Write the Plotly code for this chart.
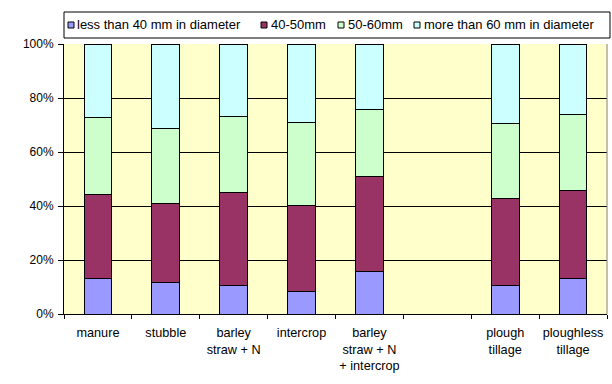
import plotly.graph_objects as go

categories = ["manure", "stubble", "barley<br>straw + N", "intercrop",
              "barley<br>straw + N<br>+ intercrop", " ", "plough<br>tillage",
              "ploughless<br>tillage"]
less_40 = [13.2, 11.7, 10.6, 8.4, 15.8, None, 10.6, 13.2]
mm_40_50 = [31.1, 29.3, 34.5, 31.9, 35.3, None, 32.2, 32.6]
mm_50_60 = [28.5, 27.8, 28.1, 30.7, 24.7, None, 27.8, 28.1]
more_60 = [27.2, 31.2, 26.8, 29.0, 24.2, None, 29.4, 26.1]
y_ticks = [0, 0.2, 0.4, 0.6, 0.8, 1.0]

series = [
    ("less than 40 mm in diameter", less_40, "#9999FF"),
    ("40-50mm", mm_40_50, "#993366"),
    ("50-60mm", mm_50_60, "#CCFFCC"),
    ("more than 60 mm in diameter", more_60, "#CCFFFF"),
]

W, H = 612, 384
L, R, T, B = 64, 5, 44, 70
PW, PH = W - L - R, H - T - B


def px_x(p):
    return (p - L) / PW


def px_y(p):
    return (H - B - p) / PH


FONT = "Liberation Sans, Arial, sans-serif"

fig = go.Figure()
for name, vals, col in series:
    fig.add_trace(go.Bar(
        x=categories, y=[None if v is None else v / 100 for v in vals],
        name=name, marker=dict(color=col, line=dict(color="black", width=1)),
    ))

fig.update_layout(
    barmode="stack",
    bargap=0.59,
    width=W, height=H,
    margin=dict(l=L, r=R, t=T, b=B),
    paper_bgcolor="white",
    plot_bgcolor="#FFFFCC",
    font=dict(family=FONT, size=12, color="black"),
    showlegend=False,
    xaxis=dict(
        type="category", categoryorder="array", categoryarray=categories,
        tickson="boundaries", ticks="outside", ticklen=4, tickcolor="black",
        showline=True, linecolor="black", linewidth=1, automargin=False,
        showgrid=False, range=[-0.5, 7.5], tickangle=0,
        tickfont=dict(size=12.7), ticklabelstandoff=7,
    ),
    yaxis=dict(
        range=[0, 1], tickvals=y_ticks, automargin=False,
        tickformat=".0%", ticks="outside", ticklen=5, tickcolor="black",
        showline=True, linecolor="black", linewidth=1, ticklabelstandoff=2,
        showgrid=True, gridcolor="black", gridwidth=1, zeroline=False,
    ),
)
fig.add_shape(type="line", xref="paper", yref="paper", x0=1, x1=1, y0=0, y1=1,
              line=dict(color="#808080", width=1))

# legend box (drawn manually to match the compact layout)
fig.add_shape(type="rect", xref="paper", yref="paper",
              x0=px_x(64), x1=px_x(610), y0=px_y(38), y1=px_y(12),
              line=dict(color="black", width=1), fillcolor="white", layer="above")
sq_x = [68, 261, 338, 414]
tx_x = [75, 269, 346, 422]
for (name, _, col), sx, tx in zip(series, sq_x, tx_x):
    fig.add_shape(type="rect", xref="paper", yref="paper",
                  x0=px_x(sx), x1=px_x(sx + 6), y0=px_y(28), y1=px_y(22),
                  line=dict(color="black", width=1), fillcolor=col, layer="above")
    fig.add_annotation(text=name, xref="paper", yref="paper",
                       x=px_x(tx), y=px_y(25), xanchor="left", yanchor="middle",
                       showarrow=False, font=dict(family=FONT, size=13, color="black"))

fig.write_html("out.html", post_script="document.body.style.margin='0';",
               config={"displayModeBar": False})
